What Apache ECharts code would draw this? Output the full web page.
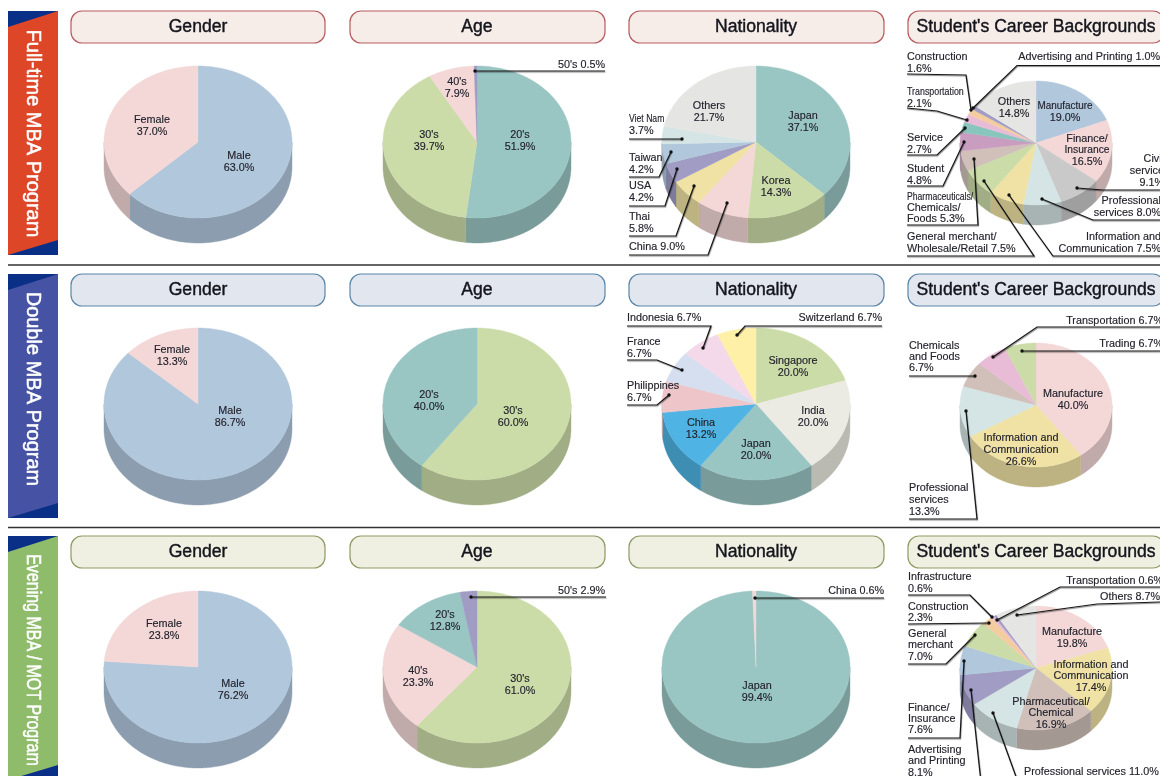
<!DOCTYPE html>
<html>
<head>
<meta charset="utf-8">
<title>Student profile by program</title>
<script src="https://cdn.jsdelivr.net/npm/echarts@6/dist/echarts.min.js"></script>
<style>
    html, body { margin: 0; padding: 0; background: #fff; overflow: hidden; }
    #chart { width: 1160px; height: 776px; filter: blur(0.35px); }
</style>
</head>
<body>
<div id="chart"></div>
<script>
// ---- data ----
const fullGenderNames = ['Male', 'Female'];
const fullGenderValues = [63.0, 37.0];
const fullAgeNames = ["20's", "30's", "40's", "50's"];
const fullAgeValues = [51.9, 39.7, 7.9, 0.5];
const fullNationNames = ['Japan', 'Korea', 'China', 'Thai', 'USA', 'Taiwan', 'Viet Nam', 'Others'];
const fullNationValues = [37.1, 14.3, 9.0, 5.8, 4.2, 4.2, 3.7, 21.7];
const fullCareerNames = ['Manufacture', 'Finance/\nInsurance', 'Civil\nservice', 'Professional\nservices',
    'Information and\nCommunication', 'General merchant/\nWholesale/Retail', 'Pharmaceuticals/\nChemicals/\nFoods',
    'Student', 'Service', 'Transportation', 'Construction', 'Advertising and Printing', 'Others'];
const fullCareerValues = [19.0, 16.5, 9.1, 8.0, 7.5, 7.5, 5.3, 4.8, 2.7, 2.1, 1.6, 1.0, 14.8];

const doubleGenderNames = ['Male', 'Female'];
const doubleGenderValues = [86.7, 13.3];
const doubleAgeNames = ["30's", "20's"];
const doubleAgeValues = [60.0, 40.0];
const doubleNationNames = ['Singapore', 'India', 'Japan', 'China', 'Philippines', 'France', 'Indonesia', 'Switzerland'];
const doubleNationValues = [20.0, 20.0, 20.0, 13.2, 6.7, 6.7, 6.7, 6.7];
const doubleCareerNames = ['Manufacture', 'Information and\nCommunication', 'Professional\nservices',
    'Chemicals\nand Foods', 'Transportation', 'Trading'];
const doubleCareerValues = [40.0, 26.6, 13.3, 6.7, 6.7, 6.7];

const eveningGenderNames = ['Male', 'Female'];
const eveningGenderValues = [76.2, 23.8];
const eveningAgeNames = ["30's", "40's", "20's", "50's"];
const eveningAgeValues = [61.0, 23.3, 12.8, 2.9];
const eveningNationNames = ['Japan', 'China'];
const eveningNationValues = [99.4, 0.6];
const eveningCareerNames = ['Manufacture', 'Information and\nCommunication', 'Pharmaceutical/\nChemical',
    'Professional services', 'Advertising\nand Printing', 'Finance/\nInsurance', 'General\nmerchant',
    'Construction', 'Infrastructure', 'Transportation', 'Others'];
const eveningCareerValues = [19.8, 17.4, 16.9, 11.0, 8.1, 7.6, 7.0, 2.3, 0.6, 0.6, 8.7];

const programNames = ['Full-time MBA Program', 'Double MBA Program', 'Evening MBA / MOT Program'];
const panelTitles = ['Gender', 'Age', 'Nationality', "Student's Career Backgrounds"];

// ---- colours ----
const BLUE = '#b0c7dc', PINK = '#f4d7d7', TEAL = '#99c6c3', GREEN = '#ccdca8', PURPLE = '#a09cc4',
    GREY = '#e5e5e4', YELLOW = '#efe2a4', MIST = '#d5e4e4', TAUPE = '#d0c0b9', MAUVE = '#c99dc0',
    ROSE = '#e8bbd6', ORANGE = '#f3cda0', SILVER = '#c9c9c9', SEA = '#88c5bc';

// ---- label layout, one entry per slice: x, y (middle of first line), alignment, leader line ----
const fullGenderLabels = [{ x: 239, y: 156 }, { x: 152, y: 120 }];
const fullAgeLabels = [{ x: 520, y: 135 }, { x: 429, y: 135 }, { x: 457, y: 82 },
    { x: 605, y: 65.5, a: 'right', sep: ' ', line: [[605, 71], [475, 71]] }];
const fullNationLabels = [
    { x: 803, y: 116 }, { x: 776, y: 181 },
    { x: 629, y: 247, a: 'left', sep: ' ', line: [[629, 255], [708, 255], [727, 203]] },
    { x: 629, y: 217, a: 'left', line: [[629, 236], [676, 236], [694, 186]] },
    { x: 629, y: 186, a: 'left', line: [[629, 206], [665, 206], [677, 169]] },
    { x: 629, y: 158, a: 'left', line: [[629, 177], [659, 177], [671, 152]] },
    { x: 629, y: 119, a: 'left', sq: [0.8], line: [[629, 139], [682, 139]] },
    { x: 709, y: 106 }
];
const fullCareerLabels = [
    { x: 1065, y: 106, sq: [0.92] },
    { x: 1087, y: 139, lh: 11.5, sq: [1, 0.95] },
    { x: 1164, y: 159, a: 'right', line: [[1160, 190], [1103, 190], [1077, 188]] },
    { x: 1161, y: 201, a: 'right', sep: ' ', line: [[1160, 220], [1093, 220], [1042, 199]] },
    { x: 1161, y: 237, a: 'right', sep: ' ', line: [[1160, 256], [1053, 256], [1009, 195]] },
    { x: 907, y: 237, a: 'left', sep: ' ', line: [[907, 256], [1034, 256], [984, 181]] },
    { x: 907, y: 197, a: 'left', sep: ' ', lh: 11, sq: [0.8], line: [[907, 225], [978, 225], [974, 159]] },
    { x: 907, y: 169, a: 'left', line: [[907, 186], [943, 186], [964, 142]] },
    { x: 907, y: 138, a: 'left', line: [[907, 155], [937, 155], [965, 128]] },
    { x: 907, y: 92, a: 'left', sq: [0.82], line: [[907, 108], [937, 111], [967, 120]] },
    { x: 907, y: 57, a: 'left', line: [[907, 74], [966, 75], [971, 110]] },
    { x: 1160, y: 57, a: 'right', sep: ' ', line: [[1160, 65.5], [1017, 65.5], [973, 108]] },
    { x: 1014, y: 102 }
];

const doubleGenderLabels = [{ x: 230, y: 411 }, { x: 172, y: 350 }];
const doubleAgeLabels = [{ x: 513, y: 411 }, { x: 429, y: 395 }];
const doubleNationLabels = [
    { x: 793, y: 361 }, { x: 813, y: 411 }, { x: 756, y: 444 }, { x: 701, y: 423 },
    { x: 627, y: 386, a: 'left', line: [[627, 405], [657, 405], [669, 395]] },
    { x: 627, y: 342, a: 'left', line: [[627, 360], [657, 360], [682, 370]] },
    { x: 627, y: 318, a: 'left', sep: ' ', line: [[627, 326], [711, 326], [703, 348]] },
    { x: 882, y: 318, a: 'right', sep: ' ', line: [[882, 326], [745, 326], [737, 335]] }
];
const doubleCareerLabels = [
    { x: 1073, y: 394 }, { x: 1021, y: 438 },
    { x: 909, y: 488, a: 'left', line: [[909, 519], [977, 519], [966, 411]] },
    { x: 909, y: 346, a: 'left', lh: 11, line: [[909, 376], [975, 376]] },
    { x: 1163, y: 321, a: 'right', sep: ' ', line: [[1160, 327], [1037, 327], [993, 357]] },
    { x: 1163, y: 344, a: 'right', sep: ' ', line: [[1160, 351], [1022, 351]] }
];

const eveningGenderLabels = [{ x: 233, y: 684 }, { x: 164, y: 624 }];
const eveningAgeLabels = [{ x: 520, y: 679 }, { x: 418, y: 671 }, { x: 445, y: 615 },
    { x: 605, y: 591, a: 'right', sep: ' ', line: [[606, 597], [471, 597]] }];
const eveningNationLabels = [{ x: 757, y: 686 },
    { x: 884, y: 591, a: 'right', sep: ' ', line: [[884, 598], [755, 598]] }];
const eveningCareerLabels = [
    { x: 1072, y: 632 }, { x: 1091, y: 665, lh: 11.5 }, { x: 1051, y: 702, lh: 11.5 },
    { x: 1024, y: 772, a: 'left', sep: ' ', line: [[1018, 782], [993, 713]] },
    { x: 908, y: 750, a: 'left', lh: 11.5, line: [[981, 782], [971, 690]] },
    { x: 908, y: 708, a: 'left', lh: 11, line: [[908, 738], [960, 738], [964, 661]] },
    { x: 908, y: 634, a: 'left', lh: 11.5, line: [[908, 664], [946, 664], [975, 635]] },
    { x: 908, y: 607, a: 'left', lh: 11, line: [[908, 624], [989, 623]] },
    { x: 908, y: 577, a: 'left', line: [[908, 595], [970, 595], [992, 617]] },
    { x: 1163, y: 581, a: 'right', sep: ' ', line: [[1160, 587], [1060, 587], [997, 620]] },
    { x: 1160, y: 597, a: 'right', sep: ' ', line: [[1160, 602], [1097, 604], [1017, 615]] }
];

const FONT = '"Liberation Sans", Arial, sans-serif';
const columns = [198, 477, 756, 1036];
const rows = [142, 404, 667];

// big pies and the smaller career pie
function pie(col, row, names, values, colors, labels) {
    const small = col === 3;
    return {
        cx: columns[col],
        cy: rows[row] + (small ? 1 : 0),
        rx: small ? 76 : 94,
        ry: small ? 62 : 76,
        depth: small ? 20 : 25,
        names, values, colors, labels
    };
}

const pies = [
    pie(0, 0, fullGenderNames, fullGenderValues, [BLUE, PINK], fullGenderLabels),
    pie(1, 0, fullAgeNames, fullAgeValues, [TEAL, GREEN, PINK, PURPLE], fullAgeLabels),
    pie(2, 0, fullNationNames, fullNationValues, [TEAL, GREEN, PINK, YELLOW, PURPLE, BLUE, MIST, GREY], fullNationLabels),
    pie(3, 0, fullCareerNames, fullCareerValues,
        [BLUE, PINK, SILVER, MIST, YELLOW, GREEN, TAUPE, MAUVE, SEA, ROSE, ORANGE, PURPLE, GREY], fullCareerLabels),
    pie(0, 1, doubleGenderNames, doubleGenderValues, [BLUE, PINK], doubleGenderLabels),
    pie(1, 1, doubleAgeNames, doubleAgeValues, [GREEN, TEAL], doubleAgeLabels),
    pie(2, 1, doubleNationNames, doubleNationValues,
        [GREEN, '#ecebe3', TEAL, '#4fb3e3', '#eec6c9', '#d5dff0', '#f3d9e9', '#fff0a8'], doubleNationLabels),
    pie(3, 1, doubleCareerNames, doubleCareerValues, [PINK, YELLOW, MIST, TAUPE, ROSE, GREEN], doubleCareerLabels),
    pie(0, 2, eveningGenderNames, eveningGenderValues, [BLUE, PINK], eveningGenderLabels),
    pie(1, 2, eveningAgeNames, eveningAgeValues, [GREEN, PINK, TEAL, PURPLE], eveningAgeLabels),
    pie(2, 2, eveningNationNames, eveningNationValues, [TEAL, PINK], eveningNationLabels),
    pie(3, 2, eveningCareerNames, eveningCareerValues,
        [PINK, YELLOW, TAUPE, MIST, PURPLE, BLUE, GREEN, ORANGE, ROSE, PURPLE, GREY], eveningCareerLabels)
];

// angle t is clockwise from 12 o'clock, in degrees
function rim(p, t, drop) {
    const r = t * Math.PI / 180;
    return [p.cx + p.rx * Math.sin(r), p.cy - p.ry * Math.cos(r) + (drop || 0)];
}

function arc(p, from, to, drop) {
    const out = [];
    const n = Math.max(1, Math.ceil(to - from));
    for (let i = 0; i <= n; i++) {
        out.push(rim(p, from + (to - from) * i / n, drop));
    }
    return out;
}

// wall colour is the slice colour in shade
function shade(hex) {
    const n = parseInt(hex.slice(1), 16);
    const r = Math.round((n >> 16 & 255) * 0.79);
    const g = Math.round((n >> 8 & 255) * 0.79);
    const b = Math.round((n & 255) * 0.79);
    return 'rgb(' + r + ',' + g + ',' + b + ')';
}

function sliceElements(p, index) {
    const total = p.values.reduce((a, b) => a + b, 0);
    let before = 0;
    for (let i = 0; i < index; i++) before += p.values[i];
    const from = before / total * 360;
    const to = (before + p.values[index]) / total * 360;
    const color = p.colors[index];
    const els = [];

    // wall, only the front half of the rim can be seen
    const wallFrom = Math.max(from, 90), wallTo = Math.min(to, 270);
    if (wallTo > wallFrom) {
        const wall = arc(p, wallFrom, wallTo).concat(arc(p, wallFrom, wallTo, p.depth).reverse());
        const dark = shade(color);
        els.push({ type: 'polygon', z2: 1, shape: { points: wall }, style: { fill: dark, stroke: dark, lineWidth: 0.4 } });
    }
    const top = [[p.cx, p.cy]].concat(arc(p, from, to));
    els.push({ type: 'polygon', z2: 2, shape: { points: top }, style: { fill: color, stroke: color, lineWidth: 0.4 } });

    // label
    const lab = p.labels[index];
    const text = p.names[index] + (lab.sep || '\n') + p.values[index].toFixed(1) + '%';
    const lh = lab.lh || 12;
    text.split('\n').forEach(function (line, k) {
        els.push({
            type: 'text', z2: 6, x: lab.x, y: lab.y + k * lh,
            scaleX: lab.sq && lab.sq[k] ? lab.sq[k] : 1,
            style: { text: line, fill: '#22222c', stroke: '#22222c', lineWidth: 0.15, fontSize: 10.8, fontFamily: FONT, align: lab.a || 'center', verticalAlign: 'middle' }
        });
    });

    // leader line, ends in a dot on the slice
    if (lab.line) {
        els.push({
            type: 'polyline', z2: 5, shape: { points: lab.line },
            style: { stroke: '#161616', lineWidth: 1.2, fill: null, shadowColor: 'rgba(0,0,0,0.5)', shadowBlur: 1, shadowOffsetX: 0.5, shadowOffsetY: 1 }
        });
        const end = lab.line[lab.line.length - 1];
        els.push({ type: 'circle', z2: 5, shape: { cx: end[0], cy: end[1], r: 1.7 }, style: { fill: '#111' } });
    }
    return els;
}

// ---- banners, title pills and rules ----
const bannerColors = ['#de4628', '#4652a3', '#8fbc6b'];
const bannerTops = [11, 274, 536];
const bannerMiddles = [133.5, 389, 660];
const bannerSqueeze = [1, 1, 0.8];
const pillFills = ['#f6ede8', '#e1e6ef', '#eff0e2'];
const pillStrokes = ['#b85a5f', '#5c86a8', '#8f9b64'];
const pillLefts = [71, 350, 629, 908];
const pillWidths = [254, 255, 255, 256];
const NAVY = '#0a2f86';

const graphics = [];
programNames.forEach(function (name, r) {
    const y = bannerTops[r];
    graphics.push({ type: 'rect', shape: { x: 8, y: y, width: 50, height: 244 }, style: { fill: bannerColors[r] } });
    graphics.push({ type: 'polygon', shape: { points: [[8, y], [58, y], [8, y + 16]] }, style: { fill: NAVY } });
    graphics.push({ type: 'polygon', shape: { points: [[58, y + 229], [58, y + 244], [8, y + 244]] }, style: { fill: NAVY } });
    graphics.push({
        type: 'text', x: 32.5, y: bannerMiddles[r], rotation: -Math.PI / 2, scaleX: bannerSqueeze[r],
        style: { text: name, fill: '#fff', stroke: '#fff', lineWidth: 0.5, fontSize: 20, fontFamily: FONT, align: 'center', verticalAlign: 'middle' }
    });
    panelTitles.forEach(function (title, c) {
        graphics.push({
            type: 'rect',
            shape: { x: pillLefts[c], y: y, width: pillWidths[c], height: 32, r: 11 },
            style: { fill: pillFills[r], stroke: pillStrokes[r], lineWidth: 1.2 }
        });
        graphics.push({
            type: 'text', x: columns[c], y: y + 16.5,
            style: { text: title, fill: '#14141c', stroke: '#14141c', lineWidth: 0.4, fontSize: 17.6, fontFamily: FONT, align: 'center', verticalAlign: 'middle' }
        });
    });
});
[265, 527.5].forEach(function (y) {
    graphics.push({ type: 'line', shape: { x1: 8, y1: y, x2: 1160, y2: y }, style: { stroke: '#333', lineWidth: 1.4 } });
});

const myChart = echarts.init(document.getElementById('chart'), null, { renderer: 'canvas' });

const option = {
    animation: false,
    backgroundColor: '#fff',
    graphic: { elements: graphics },
    series: pies.map(function (p) {
        return {
            type: 'custom',
            coordinateSystem: 'none',
            silent: true,
            data: p.values,
            renderItem: function (params) {
                return { type: 'group', children: sliceElements(p, params.dataIndex) };
            }
        };
    })
};

option && myChart.setOption(option);
</script>
</body>
</html>
